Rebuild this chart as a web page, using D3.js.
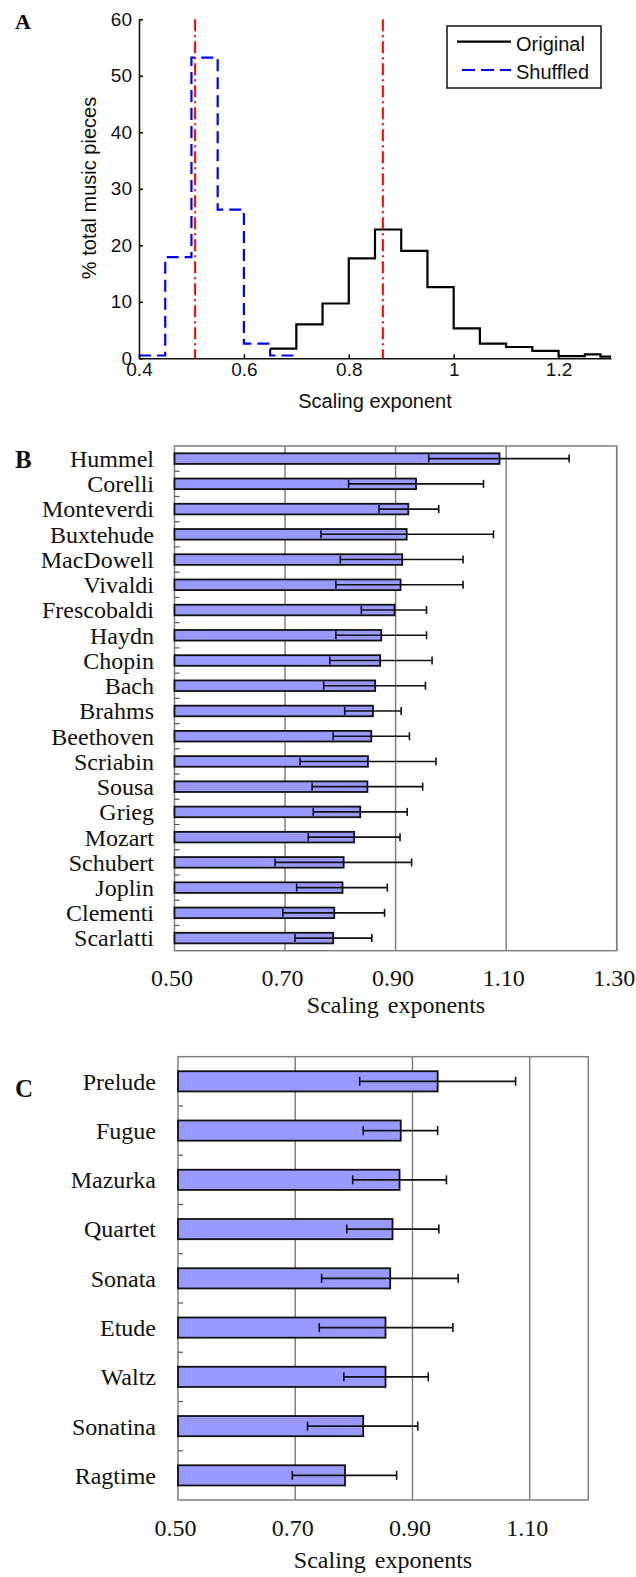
<!DOCTYPE html>
<html lang="en">
<head>
    <meta charset="UTF-8">
    <title>Scaling exponents</title>
    <script src="https://cdn.jsdelivr.net/npm/d3@7"></script>
    <style>
        html, body {
            margin: 0;
            background: white;
        }
        .sans { font-family: "Liberation Sans", Arial, sans-serif; }
        .serif { font-family: "Liberation Serif", "Times New Roman", serif; }
    </style>
</head>
<body>
    <div id="vis"></div>
    <script>

        // panel A: histogram of scaling exponents
        var originalEdges = [0.65, 0.70, 0.75, 0.80, 0.85, 0.90, 0.95, 1.00, 1.05, 1.10, 1.15, 1.20, 1.25, 1.28, 1.30];
        var originalPct   = [1.7, 6.0, 9.7, 17.7, 22.8, 19.0, 12.6, 5.3, 2.6, 2.0, 1.3, 0.4, 0.7, 0.3];
        var shuffledEdges = [0.40, 0.45, 0.50, 0.55, 0.60, 0.65, 0.70];
        var shuffledPct   = [0.5, 17.9, 53.2, 26.3, 2.6, 0.5];
        var meanLines = [0.507, 0.865];
        var histXTicks = [0.4, 0.6, 0.8, 1, 1.2];
        var histYTicks = [0, 10, 20, 30, 40, 50, 60];

        // panel B: composers
        var composers = ["Hummel", "Corelli", "Monteverdi", "Buxtehude", "MacDowell", "Vivaldi", "Frescobaldi",
            "Haydn", "Chopin", "Bach", "Brahms", "Beethoven", "Scriabin", "Sousa", "Grieg", "Mozart",
            "Schubert", "Joplin", "Clementi", "Scarlatti"];
        var composerMean = [1.088, 0.937, 0.923, 0.920, 0.912, 0.909, 0.898, 0.874, 0.872, 0.863,
            0.859, 0.856, 0.850, 0.849, 0.836, 0.825, 0.806, 0.804, 0.789, 0.787];
        var composerLow  = [0.960, 0.815, 0.870, 0.765, 0.800, 0.792, 0.838, 0.792, 0.781, 0.770,
            0.808, 0.787, 0.727, 0.749, 0.751, 0.742, 0.682, 0.721, 0.696, 0.718];
        var composerHigh = [1.214, 1.059, 0.978, 1.077, 1.022, 1.022, 0.956, 0.956, 0.966, 0.954,
            0.910, 0.925, 0.973, 0.949, 0.921, 0.908, 0.929, 0.885, 0.880, 0.857];
        var composerTicks = [0.5, 0.7, 0.9, 1.1, 1.3];

        // panel C: genres
        var genres = ["Prelude", "Fugue", "Mazurka", "Quartet", "Sonata", "Etude", "Waltz", "Sonatina", "Ragtime"];
        var genreMean = [0.943, 0.880, 0.878, 0.866, 0.862, 0.854, 0.854, 0.816, 0.785];
        var genreLow  = [0.810, 0.816, 0.798, 0.788, 0.745, 0.741, 0.783, 0.721, 0.695];
        var genreHigh = [1.076, 0.943, 0.958, 0.945, 0.978, 0.969, 0.927, 0.909, 0.873];
        var genreTicks = [0.5, 0.7, 0.9, 1.1];

        var svg = d3.select('#vis')
                    .append('svg')
                        .attr('width', 636)
                        .attr('height', 1577);

        // ---------- A ----------
        var xA = d3.scaleLinear().domain([0.4, 1.3]).range([139, 611]);
        var yA = d3.scaleLinear().domain([0, 60]).range([358.3, 19.3]);

        var gA = svg.append('g').attr('class', 'sans');

        gA.append('text')
            .attr('class', 'serif')
            .attr('x', 15).attr('y', 28.5)
            .attr('font-size', 22).attr('font-weight', 'bold')
            .text('A');

        var xAxisA = d3.axisBottom(xA)
            .tickValues(histXTicks)
            .tickSizeInner(-4).tickSizeOuter(0).tickPadding(4)
            .tickFormat(function(d){ return String(+d.toFixed(1)); });
        var yAxisA = d3.axisLeft(yA)
            .tickValues(histYTicks)
            .tickSizeInner(-4).tickSizeOuter(0).tickPadding(7);

        gA.append('g')
            .attr('transform', 'translate(0,' + yA(0) + ')')
            .call(xAxisA);
        gA.append('g')
            .attr('transform', 'translate(' + xA(0.4) + ',0)')
            .call(yAxisA);

        gA.selectAll('.tick text')
            .attr('font-family', '"Liberation Sans", Arial, sans-serif')
            .attr('font-size', 19)
            .attr('fill', '#111');
        gA.selectAll('.domain, .tick line')
            .attr('stroke', '#111')
            .attr('stroke-width', 1.6);

        function stairs(edges, vals){
            var pts = vals.map(function(v, i){ return [edges[i], v]; });
            pts.push([edges[edges.length - 1], vals[vals.length - 1]]);
            return d3.line()
                .x(function(d){ return xA(d[0]); })
                .y(function(d){ return yA(d[1]); })
                .curve(d3.curveStepAfter)(pts);
        }

        gA.append('path')
            .attr('d', stairs(shuffledEdges, shuffledPct))
            .attr('fill', 'none')
            .attr('stroke', '#0000ff')
            .attr('stroke-width', 2.2)
            .attr('stroke-dasharray', '12,6');

        gA.append('path')
            .attr('d', stairs(originalEdges, originalPct))
            .attr('fill', 'none')
            .attr('stroke', 'black')
            .attr('stroke-width', 2.2);

        gA.selectAll('.mean')
            .data(meanLines)
            .enter()
            .append('line')
            .attr('class', 'mean')
            .attr('x1', function(d){ return xA(d); })
            .attr('x2', function(d){ return xA(d); })
            .attr('y1', yA(60))
            .attr('y2', yA(0))
            .attr('stroke', '#ff0000')
            .attr('stroke-width', 2)
            .attr('stroke-dasharray', '12,4,2,4');

        // legend
        var legend = gA.append('g');
        legend.append('rect')
            .attr('x', 447).attr('y', 26)
            .attr('width', 154).attr('height', 62)
            .attr('fill', 'white')
            .attr('stroke', '#111')
            .attr('stroke-width', 1.5);
        legend.append('line')
            .attr('x1', 457).attr('x2', 511).attr('y1', 41.7).attr('y2', 41.7)
            .attr('stroke', 'black').attr('stroke-width', 2.2);
        legend.append('line')
            .attr('x1', 462).attr('x2', 511).attr('y1', 70).attr('y2', 70)
            .attr('stroke', '#0000ff').attr('stroke-width', 2.2)
            .attr('stroke-dasharray', '13,6');
        legend.append('text')
            .attr('x', 516).attr('y', 51)
            .attr('font-size', 20).attr('fill', '#111')
            .text('Original');
        legend.append('text')
            .attr('x', 516).attr('y', 79)
            .attr('font-size', 20).attr('fill', '#111')
            .text('Shuffled');

        gA.append('text')
            .attr('x', (xA(0.4) + xA(1.3)) / 2)
            .attr('y', 408)
            .attr('text-anchor', 'middle')
            .attr('font-size', 20).attr('fill', '#111')
            .text('Scaling exponent');

        gA.append('text')
            .attr('transform', 'translate(96,188)rotate(-90)')
            .attr('text-anchor', 'middle')
            .attr('font-size', 20).attr('fill', '#111')
            .text('% total music pieces');

        // ---------- B and C: horizontal bar charts ----------
        function barPanel(opt){
            var x = d3.scaleLinear().domain(opt.domain).range([opt.left, opt.right]);
            var y = d3.scaleBand().domain(opt.names).range([opt.top, opt.bottom]);
            var bw = y.bandwidth();
            var g = svg.append('g').attr('class', 'serif');

            var data = opt.names.map(function(n, i){
                return { name: n, mean: opt.mean[i], lo: opt.low[i], hi: opt.high[i] };
            });

            // gridlines
            g.selectAll('.grid')
                .data(opt.ticks.slice(1))
                .enter()
                .append('line')
                .attr('x1', function(d){ return x(d); })
                .attr('x2', function(d){ return x(d); })
                .attr('y1', opt.top).attr('y2', opt.bottom)
                .attr('stroke', '#808080')
                .attr('stroke-width', 1.5);

            g.append('rect')
                .attr('x', opt.left).attr('y', opt.top)
                .attr('width', opt.right - opt.left)
                .attr('height', opt.bottom - opt.top)
                .attr('fill', 'none')
                .attr('stroke', '#808080')
                .attr('stroke-width', 1.5);

            // small ticks between categories
            g.selectAll('.mtick')
                .data(opt.names.slice(1))
                .enter()
                .append('line')
                .attr('x1', opt.left).attr('x2', opt.left + 5)
                .attr('y1', function(d){ return y(d); })
                .attr('y2', function(d){ return y(d); })
                .attr('stroke', '#555')
                .attr('stroke-width', 1.2);

            g.selectAll('.bar')
                .data(data)
                .enter()
                .append('rect')
                .attr('x', x(opt.domain[0]))
                .attr('y', function(d){ return y(d.name) + bw * (1 - opt.barFrac) / 2; })
                .attr('width', function(d){ return x(d.mean) - x(opt.domain[0]); })
                .attr('height', bw * opt.barFrac)
                .attr('fill', '#9999ff')
                .attr('stroke', '#111')
                .attr('stroke-width', 1.8);

            var err = g.selectAll('.err')
                .data(data)
                .enter()
                .append('g')
                .attr('transform', function(d){ return 'translate(0,' + (y(d.name) + bw / 2) + ')'; });
            err.append('line')
                .attr('x1', function(d){ return x(d.lo); })
                .attr('x2', function(d){ return x(d.hi); })
                .attr('stroke', '#111').attr('stroke-width', 1.6);
            err.append('line')
                .attr('x1', function(d){ return x(d.lo); })
                .attr('x2', function(d){ return x(d.lo); })
                .attr('y1', -opt.cap).attr('y2', opt.cap)
                .attr('stroke', '#111').attr('stroke-width', 1.6);
            err.append('line')
                .attr('x1', function(d){ return x(d.hi); })
                .attr('x2', function(d){ return x(d.hi); })
                .attr('y1', -opt.cap).attr('y2', opt.cap)
                .attr('stroke', '#111').attr('stroke-width', 1.6);

            g.selectAll('.cat')
                .data(data)
                .enter()
                .append('text')
                .attr('x', opt.labelX)
                .attr('y', function(d){ return y(d.name) + bw / 2; })
                .attr('dy', '0.35em')
                .attr('text-anchor', 'end')
                .attr('font-size', 24)
                .attr('fill', '#111')
                .text(function(d){ return d.name; });

            var axis = d3.axisBottom(x)
                .tickValues(opt.ticks)
                .tickSize(0)
                .tickPadding(opt.tickPad)
                .tickFormat(d3.format('.2f'));
            var ax = g.append('g')
                .attr('transform', 'translate(-3,' + opt.bottom + ')')
                .call(axis);
            ax.select('.domain').remove();
            ax.selectAll('text')
                .attr('font-family', '"Liberation Serif", "Times New Roman", serif')
                .attr('font-size', 24)
                .attr('fill', '#111');

            g.append('text')
                .attr('x', opt.titleX)
                .attr('y', opt.bottom + opt.titleDy)
                .attr('text-anchor', 'middle')
                .attr('font-size', 24)
                .attr('word-spacing', 3)
                .attr('fill', '#111')
                .text('Scaling exponents');

            g.append('text')
                .attr('x', 15)
                .attr('y', opt.letterY)
                .attr('font-size', 25)
                .attr('font-weight', 'bold')
                .attr('fill', '#111')
                .text(opt.letter);
        }

        barPanel({
            letter: 'B', letterY: 468,
            names: composers, mean: composerMean, low: composerLow, high: composerHigh,
            ticks: composerTicks, domain: [0.5, 1.3],
            left: 174.5, right: 616.7, top: 446, bottom: 950.7,
            barFrac: 0.42, cap: 4, labelX: 154,
            tickPad: 18, titleX: 396, titleDy: 62
        });

        barPanel({
            letter: 'C', letterY: 1097,
            names: genres, mean: genreMean, low: genreLow, high: genreHigh,
            ticks: genreTicks, domain: [0.5, 1.2],
            left: 178, right: 588.3, top: 1056.7, bottom: 1500,
            barFrac: 0.41, cap: 4.5, labelX: 156,
            tickPad: 19, titleX: 383, titleDy: 68
        });

    </script>
</body>
</html>
